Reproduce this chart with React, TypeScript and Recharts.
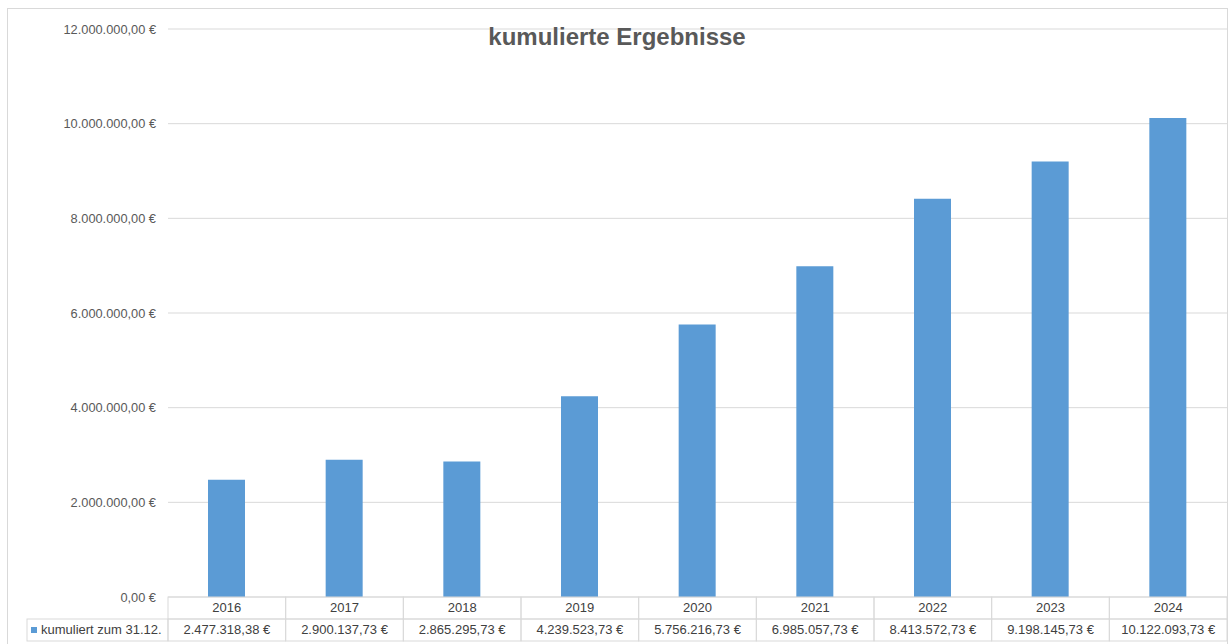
import React from 'react'
import { BarChart, Bar, XAxis, YAxis, CartesianGrid } from 'recharts'

const years = ['2016', '2017', '2018', '2019', '2020', '2021', '2022', '2023', '2024']
const cumulated = [
  2477318.38, 2900137.73, 2865295.73, 4239523.73, 5756216.73, 6985057.73, 8413572.73, 9198145.73,
  10122093.73,
]
const yTicks = [0, 2000000, 4000000, 6000000, 8000000, 10000000, 12000000]
const seriesName = 'kumuliert zum 31.12.'
const title = 'kumulierte Ergebnisse'

const W = 1228
const H = 644
const MARGIN = { top: 29, right: 1, bottom: 0, left: 8 }
const Y_AXIS_W = 160
const X_AXIS_H = 47
const ROW_H = 22
const COL_W = (W - MARGIN.left - MARGIN.right - Y_AXIS_W) / years.length

const BAR = '#5b9bd5'
const GRID = '#d9d9d9'
const FONT = '"Liberation Sans", Arial, sans-serif'

// 2477318.38 -> "2.477.318,38 €"
function euro(v: number) {
  const [int, dec] = v.toFixed(2).split('.')
  const grouped = int.replace(/\B(?=(\d{3})+(?!\d))/g, '.')
  return `${grouped},${dec}\u00a0€`
}

const data = years.map((year, i) => ({ year, value: cumulated[i] }))

function TableTick(props: any) {
  const { x, y, payload, index } = props
  const left = x - COL_W / 2
  return (
    <g>
      <rect x={left} y={y} width={COL_W} height={ROW_H} fill="none" stroke={GRID} />
      <rect x={left} y={y + ROW_H} width={COL_W} height={ROW_H} fill="none" stroke={GRID} />
      <text x={x} y={y + 15} textAnchor="middle" fontSize={13} fill="#404040" fontFamily={FONT}>
        {payload.value}
      </text>
      <text x={x} y={y + 37} textAnchor="middle" fontSize={13} fill="#404040" fontFamily={FONT}>
        {euro(cumulated[index])}
      </text>
      {index === 0 && (
        <g>
          <rect x={27} y={y + ROW_H} width={left - 27} height={ROW_H} fill="none" stroke={GRID} />
          <rect x={31} y={y + ROW_H + 8} width={6} height={6} fill={BAR} />
          <text x={41} y={y + 37} fontSize={13} fill="#404040" fontFamily={FONT}>
            {seriesName}
          </text>
        </g>
      )}
    </g>
  )
}

export default function App() {
  return (
    <div style={{ position: 'absolute', left: 0, top: 0, width: W, height: H, background: '#fff' }}>
      <div
        style={{
          position: 'absolute',
          left: 7,
          top: 8,
          width: 1219,
          height: 640,
          border: `1px solid ${GRID}`,
        }}
      />
      <div
        style={{
          position: 'absolute',
          left: 7,
          width: 1220,
          top: 22,
          textAlign: 'center',
          fontFamily: FONT,
          fontWeight: 'bold',
          fontSize: 24,
          color: '#595959',
          lineHeight: '30px',
          zIndex: 2,
        }}
      >
        {title}
      </div>
      <div style={{ position: 'absolute', left: 0, top: 0 }}>
        <BarChart width={W} height={H} data={data} margin={MARGIN}>
          <CartesianGrid vertical={false} stroke={GRID} />
          <XAxis
            dataKey="year"
            height={X_AXIS_H}
            axisLine={false}
            tickLine={false}
            tickSize={0}
            tickMargin={0}
            interval={0}
            tick={<TableTick />}
          />
          <YAxis
            width={Y_AXIS_W}
            domain={[0, 12000000]}
            ticks={yTicks}
            axisLine={false}
            tickLine={false}
            tickMargin={6}
            tickFormatter={euro}
            tick={{ fontSize: 12.8, fill: '#595959', fontFamily: FONT }}
          />
          <Bar dataKey="value" name={seriesName} fill={BAR} barSize={37} isAnimationActive={false} />
        </BarChart>
      </div>
    </div>
  )
}
